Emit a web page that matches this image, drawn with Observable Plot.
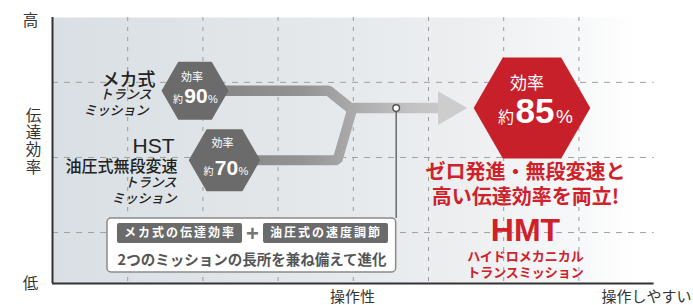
<!DOCTYPE html>
<html><head><meta charset="utf-8">
<script src="https://cdn.jsdelivr.net/npm/d3@7"></script>
<script src="https://cdn.jsdelivr.net/npm/@observablehq/plot@0.6"></script>
<style>
html,body{margin:0;padding:0;background:#fff}
#chart svg{display:block}
</style>
</head><body><div id="chart"></div>
<script>
// ---- data (x = 操作性 score, y = 伝達効率 %) ----
const xDomain = [0, 8];
const yDomain = [34.55, 111.05];
const gridX = [1, 2, 3, 4, 5, 6, 7];
const gridY = [92.4, 70.8, 49.2];

const names = ["メカ式", "HST", "HMT"];
const efficiency = [90, 70, 85];
const operability = [1.895, 2.287, 6.376];

const mechRouteX = [1.895, 3.67, 3.96, 5.16];
const mechRouteY = [90, 90, 85, 85];
const hstRouteX = [2.287, 3.79, 3.99, 4.3];
const hstRouteY = [70, 70, 85, 85];
const arrowHeadX = [5.256];
const jointX = [4.57];
const boxTopY = 53.24;

const yAxisLabels = ["高", "伝\n達\n効\n率", "低"];
const yAxisLabelX = [-0.293, -0.253, -0.293];
const yAxisLabelY = [110.19, 75.39, 34.55];
const xAxisLabels = ["操作性", "操作しやすい"];
const xAxisLabelX = [3.99, 8.497];
const xAxisLabelY = [30.48, 30.48];

const mechLabel = ["メカ式", "トランス", "ミッション"];
const mechLabelX = [1.370, 1.316, 1.277];
const mechLabelY = [93.1, 88.8, 84.1];
const hstLabel = ["HST", "油圧式無段変速", "トランス", "ミッション"];
const hstLabelX = [1.622, 1.662, 1.649, 1.649];
const hstLabelY = [74.1, 68.1, 63.4, 58.8];

const hmtSlogan = ["ゼロ発進・無段変速と", "高い伝達効率を両立!"];
const hmtSloganY = [66.48, 59.29];
const hmtName = ["HMT", "ハイドロメカニカル", "トランスミッション"];
const hmtNameY = [49.79, 42.15, 37.55];
const hmtTextX = 6.29;

const boxX = [0.731, 4.57];
const boxY = [37.71, 53.24];
const boxTags = ["メカ式の伝達効率", "油圧式の速度調節"];
const boxTagX1 = [0.864, 2.806];
const boxTagX2 = [2.527, 4.468];
const boxTagY = [46.06, 51.81];
const boxPlusX = 2.66;
const boxNote = "2つのミッションの長所を兼ね備えて進化";
const boxNoteX = 2.653;
const boxNoteY = 41.16;

// ---- build ----
const JP = "'Noto Sans CJK JP', sans-serif";
const LAT = "'Liberation Sans', Arial, 'Noto Sans CJK JP', sans-serif";
const hexes = names.map((n, i) => ({name: n, x: operability[i], y: efficiency[i]}));
const grayHex = hexes.slice(0, 2);
const redHex = hexes.slice(2);
const route = (xs, ys) => xs.map((x, i) => ({x, y: ys[i]}));
const pts = (texts, xs, ys) => texts.map((t, i) => ({t, x: xs[i], y: ys[i]}));
const mechPts = pts(mechLabel, mechLabelX, mechLabelY);
const hstPts = pts(hstLabel, hstLabelX, hstLabelY);
const xLab = pts(xAxisLabels, xAxisLabelX, xAxisLabelY);

const hexText = (data, o) => [
  Plot.text(data, {x: "x", y: "y", text: () => "効率", dx: o.ldx, dy: o.ldy, fill: "#fff", fontSize: o.ls, fontFamily: JP}),
  Plot.text(data, {x: "x", y: "y", text: d => String(d.y), dx: o.ndx, dy: o.base, lineAnchor: "bottom", fill: "#fff", fontSize: o.ns, fontWeight: "bold", fontFamily: LAT}),
  Plot.text(data, {x: "x", y: "y", text: () => "約", textAnchor: "end", dx: o.ydx, dy: o.base, lineAnchor: "bottom", fill: "#fff", fontSize: o.ys, fontFamily: JP}),
  Plot.text(data, {x: "x", y: "y", text: () => "%", textAnchor: "start", dx: o.pdx, dy: o.base, lineAnchor: "bottom", fill: "#fff", fontSize: o.ps, fontFamily: LAT})
];

const marks = [
  Plot.frame({fill: "url(#bgGrad)", stroke: "none"}),
  Plot.ruleX(gridX, {stroke: "#9c9c9c", strokeWidth: 1, strokeDasharray: "4,6"}),
  Plot.ruleY(gridY, {stroke: "#a0a0a0", strokeWidth: 1, strokeDasharray: "6,6"}),
  Plot.ruleX([xDomain[0]], {stroke: "#333", strokeWidth: 2}),
  Plot.ruleY([yDomain[0]], {stroke: "#333", strokeWidth: 2}),
  // routes
  Plot.line(route(hstRouteX, hstRouteY), {x: "x", y: "y", stroke: "url(#pathGrad)", strokeWidth: 10, strokeLinejoin: "miter", strokeLinecap: "butt"}),
  Plot.line(route(mechRouteX, mechRouteY), {x: "x", y: "y", stroke: "url(#pathGrad)", strokeWidth: 10.5, strokeLinejoin: "miter", strokeLinecap: "butt"}),
  Plot.dot(arrowHeadX.map(x => ({x, y: efficiency[2]})), {x: "x", y: "y", symbol: "triangle", r: 12.5, rotate: 90, fill: "#cdcdcd", stroke: "none"}),
  // connector
  Plot.ruleX(jointX, {y1: efficiency[2], y2: boxTopY, stroke: "#555", strokeWidth: 1.3}),
  Plot.dot(jointX.map(x => ({x, y: efficiency[2]})), {x: "x", y: "y", r: 3.3, fill: "#fff", stroke: "#555", strokeWidth: 1.5}),
  // box
  Plot.rect([{}], {x1: boxX[0], x2: boxX[1], y1: boxY[0], y2: boxY[1], fill: "#fff", stroke: "#8a8a8a", strokeWidth: 1.5, rx: 4}),
  Plot.rect(boxTags.map((t, i) => ({t, x1: boxTagX1[i], x2: boxTagX2[i]})), {x1: "x1", x2: "x2", y1: boxTagY[0], y2: boxTagY[1], fill: "#6b6b6b", rx: 2}),
  Plot.text(boxTags.map((t, i) => ({t, x: (boxTagX1[i] + boxTagX2[i]) / 2})), {x: "x", y: (boxTagY[0] + boxTagY[1]) / 2, text: "t", fill: "#fff", fontSize: 12, fontWeight: "bold", fontFamily: JP}),
  Plot.text(["+"], {x: boxPlusX, y: (boxTagY[0] + boxTagY[1]) / 2, text: d => d, fill: "#777", fontSize: 22, fontWeight: "bold", fontFamily: LAT}),
  Plot.text([boxNote], {x: boxNoteX, y: boxNoteY, text: d => d, fill: "#555", fontSize: 14.5, fontWeight: "bold", fontFamily: JP}),
  // hexagons
  Plot.dot(grayHex.slice(0, 1), {x: "x", y: "y", symbol: "hexagon", r: 29, rotate: 90, fill: "#6b6b6b"}),
  Plot.dot(grayHex.slice(1, 2), {x: "x", y: "y", symbol: "hexagon", r: 31, rotate: 90, fill: "#6b6b6b"}),
  Plot.dot(redHex, {x: "x", y: "y", symbol: "hexagon", r: 50.5, rotate: 90, fill: "#c8202a"}),
  ...hexText(grayHex.slice(0, 1), {ldx: -3, ldy: -13, ls: 11, ndx: 1, base: 12.5, ns: 21, ydx: -12, ys: 10, pdx: 13, ps: 11}),
  ...hexText(grayHex.slice(1, 2), {ldx: -2, ldy: -16.5, ls: 11, ndx: 2, base: 15, ns: 21, ydx: -11, ys: 10, pdx: 14, ps: 11}),
  ...hexText(redHex, {ldx: -5, ldy: -24.5, ls: 17, ndx: 3, base: 14.5, ns: 35, ydx: -18, ys: 16, pdx: 24, ps: 19}),
  // left labels
  Plot.text(mechPts.slice(0, 1), {x: "x", y: "y", text: "t", textAnchor: "end", fill: "#222", fontSize: 18, fontWeight: 500, fontFamily: JP}),
  Plot.text(mechPts.slice(1), {x: "x", y: "y", text: "t", textAnchor: "end", fill: "#222", fontSize: 13, fontWeight: 500, fontFamily: JP}),
  Plot.text(hstPts.slice(0, 1), {x: "x", y: "y", text: "t", textAnchor: "end", fill: "#222", fontSize: 21, fontFamily: LAT}),
  Plot.text(hstPts.slice(1, 2), {x: "x", y: "y", text: "t", textAnchor: "end", fill: "#222", fontSize: 16, fontWeight: 500, fontFamily: JP}),
  Plot.text(hstPts.slice(2), {x: "x", y: "y", text: "t", textAnchor: "end", fill: "#222", fontSize: 13, fontWeight: 500, fontFamily: JP}),
  // axis labels
  Plot.text(pts(yAxisLabels, yAxisLabelX, yAxisLabelY), {x: "x", y: "y", text: "t", fill: "#333", fontSize: 15.5, lineHeight: 1.1, fontFamily: JP}),
  Plot.text(xLab.slice(0, 1), {x: "x", y: "y", text: "t", textAnchor: "middle", fill: "#333", fontSize: 15, fontFamily: JP}),
  Plot.text(xLab.slice(1), {x: "x", y: "y", text: "t", textAnchor: "end", fill: "#333", fontSize: 15, fontFamily: JP}),
  // HMT red texts
  Plot.text(hmtSlogan.map((t, i) => ({t, y: hmtSloganY[i]})), {x: hmtTextX, y: "y", text: "t", fill: "#d0212a", fontSize: 20, fontWeight: "bold", fontFamily: JP}),
  Plot.text([hmtName[0]], {x: hmtTextX, y: hmtNameY[0], text: d => d, fill: "#d0212a", fontSize: 32, fontWeight: "bold", fontFamily: LAT}),
  Plot.text(hmtName.slice(1).map((t, i) => ({t, y: hmtNameY[i + 1]})), {x: hmtTextX, y: "y", text: "t", fill: "#d0212a", fontSize: 13, fontWeight: "bold", fontFamily: JP})
];

const svg = Plot.plot({
  width: 693,
  height: 305,
  marginLeft: 52,
  marginRight: 39.4,
  marginTop: 17,
  marginBottom: 22,
  x: {domain: xDomain, axis: null},
  y: {domain: yDomain, axis: null},
  style: {fontFamily: JP, background: "#fff"},
  marks
});

const xs = svg.scale("x");
const defs = d3.select(svg).insert("defs", ":first-child");
const bg = defs.append("linearGradient").attr("id", "bgGrad").attr("x1", 0).attr("x2", 1).attr("y1", 0).attr("y2", 0);
[[0, "#d9dfe4"], [0.35, "#e2e6e9"], [0.7, "#edeff1"], [0.88, "#f7f8f9"], [0.97, "#ffffff"]].forEach(([o, c]) => bg.append("stop").attr("offset", o).attr("stop-color", c));
const pg = defs.append("linearGradient").attr("id", "pathGrad").attr("gradientUnits", "userSpaceOnUse")
  .attr("x1", xs.apply(2.2)).attr("x2", xs.apply(5.4)).attr("y1", 0).attr("y2", 0);
[[0, "#868686"], [0.35, "#939393"], [0.55, "#a9a9a9"], [0.8, "#c2c2c2"], [1, "#cdcdcd"]].forEach(([o, c]) => pg.append("stop").attr("offset", o).attr("stop-color", c));

d3.select(svg).selectAll("text").filter(function () { return boxTags.includes(this.textContent); }).attr("letter-spacing", "2px");
d3.select(svg).selectAll("text").filter(function () { return this.textContent === "トランス" || this.textContent === "ミッション"; }).attr("font-style", "italic");

document.getElementById("chart").appendChild(svg);
</script>
</body></html>
